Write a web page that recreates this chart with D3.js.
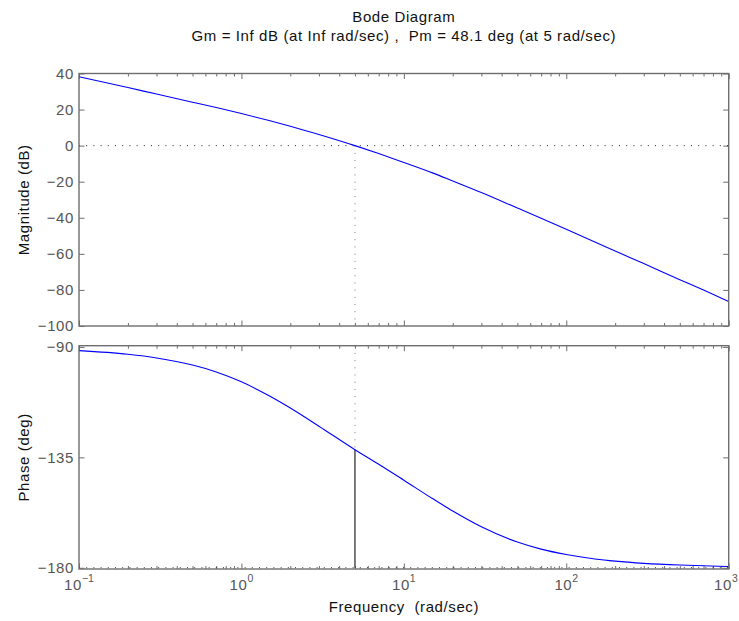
<!DOCTYPE html>
<html><head><meta charset="utf-8">
<script src="https://cdn.jsdelivr.net/npm/d3@7"></script>
<style>body{margin:0;background:#fff}</style>
</head><body>
<svg id="chart" width="739" height="621"></svg>
<script>
const freq        = [0.1, 0.2, 0.3, 0.5, 0.7, 1, 1.5, 2, 3, 5, 7, 10, 15, 20, 30, 50, 70, 100, 150, 200, 300, 500, 700, 1000];
const magnitudeDb = [38.2, 32.2, 28.6, 24.1, 21.1, 17.8, 13.8, 10.8, 6.2, 0.0, -4.4, -9.3, -15.1, -19.6, -26.0, -34.6, -40.3, -46.4, -53.4, -58.4, -65.4, -74.3, -80.1, -86.4];
const phaseDeg    = [-91.5, -93.0, -94.5, -97.4, -100.2, -104.2, -110.1, -114.9, -122.3, -131.9, -137.8, -144.3, -151.8, -156.9, -163.3, -169.5, -172.4, -174.6, -176.4, -177.3, -178.2, -178.9, -179.2, -179.5];
const magTicks    = [40, 20, 0, -20, -40, -60, -80, -100];
const phaseTicks  = [-90, -135, -180];
const freqTickExps = [-1, 0, 1, 2, 3];
const titleLines  = ["Bode Diagram", "Gm = Inf dB (at Inf rad/sec) ,  Pm = 48.1 deg (at 5 rad/sec)"];
const pmFreq = 5, pmPhase = -131.9;

const FONT = "'Liberation Sans', Arial, Helvetica, sans-serif";
const LS = "0.6px";
const W = 739;
const svg = d3.select("#chart").style("font-family", FONT);
const L = 79, R = 728.7, T1 = 73.5, B1 = 326, T2 = 345.7, B2 = 569;
const x = d3.scaleLog().domain([0.1, 1000]).range([L, R]);
const yMag = d3.scaleLinear().domain([-100, 40]).range([B1, T1]);
const yPh = d3.scaleLinear().domain([-180.5, -89.5]).range([B2, T2]);

const axisColor = "#6e6e6e";
const minorVals = [];
freqTickExps.slice(0, -1).forEach(e => { for (let m = 2; m <= 9; m++) minorVals.push(m * Math.pow(10, e)); });
const majorVals = freqTickExps.map(e => Math.pow(10, e));

function frame(yScale, top, bottom, yTicks) {
  const g = svg.append("g");
  const addX = (vals, size) => {
    g.append("g").attr("transform", `translate(0,${bottom})`)
      .call(d3.axisBottom(x).tickValues(vals).tickSize(-size).tickFormat(""));
    g.append("g").attr("transform", `translate(0,${top})`)
      .call(d3.axisTop(x).tickValues(vals).tickSize(-size).tickFormat(""));
  };
  addX(minorVals, 3);
  addX(majorVals, 5.5);
  g.append("g").attr("transform", `translate(${L},0)`)
    .call(d3.axisLeft(yScale).tickValues(yTicks).tickSize(-5.5).tickPadding(5)
      .tickFormat(d => (d < 0 ? "\u2212" + Math.abs(d) : String(d))));
  g.append("g").attr("transform", `translate(${R},0)`)
    .call(d3.axisRight(yScale).tickValues(yTicks).tickSize(-5.5).tickFormat(""));
  g.selectAll(".domain").remove();
  g.selectAll(".tick line").attr("stroke", axisColor).attr("stroke-width", 1);
  g.selectAll(".tick text").attr("fill", "#555").style("font-size", "15px")
    .style("letter-spacing", LS).style("font-family", FONT);
  return g;
}

frame(yMag, T1, B1, magTicks);
frame(yPh, T2, B2, phaseTicks);

const dots = "1,6.2";
svg.append("line").attr("x1", L).attr("x2", R).attr("y1", yMag(0)).attr("y2", yMag(0))
  .attr("stroke", "#222").attr("stroke-dasharray", dots);
svg.append("line").attr("x1", L).attr("x2", R).attr("y1", yPh(-180)).attr("y2", yPh(-180))
  .attr("stroke", "#222").attr("stroke-dasharray", dots);
svg.append("line").attr("x1", x(pmFreq)).attr("x2", x(pmFreq)).attr("y1", yMag(0)).attr("y2", B1)
  .attr("stroke", "#777").attr("stroke-dasharray", dots);
svg.append("line").attr("x1", x(pmFreq)).attr("x2", x(pmFreq)).attr("y1", T2).attr("y2", yPh(pmPhase))
  .attr("stroke", "#777").attr("stroke-dasharray", dots);
svg.append("line").attr("x1", x(pmFreq)).attr("x2", x(pmFreq)).attr("y1", yPh(pmPhase)).attr("y2", yPh(-180))
  .attr("stroke", "#333").attr("stroke-width", 1.3);

const magLine = d3.line().x((d, i) => x(freq[i])).y(d => yMag(d)).curve(d3.curveMonotoneX);
const phLine = d3.line().x((d, i) => x(freq[i])).y(d => yPh(d)).curve(d3.curveMonotoneX);
svg.append("path").attr("d", magLine(magnitudeDb)).attr("fill", "none").attr("stroke", "#0000ff").attr("stroke-width", 1.1);
svg.append("path").attr("d", phLine(phaseDeg)).attr("fill", "none").attr("stroke", "#0000ff").attr("stroke-width", 1.1);

[[T1, B1], [T2, B2]].forEach(([t, b]) => {
  svg.append("rect").attr("x", L).attr("y", t).attr("width", R - L).attr("height", b - t)
    .attr("fill", "none").attr("stroke", axisColor).attr("stroke-width", 1.4);
});

freqTickExps.forEach(e => {
  const t = svg.append("text").attr("x", x(Math.pow(10, e))).attr("y", 590)
    .attr("text-anchor", "middle").attr("fill", "#555").style("font-size", "15px").style("letter-spacing", LS);
  t.append("tspan").text("10");
  t.append("tspan").attr("dy", -8).style("font-size", "10.5px").style("letter-spacing", "0px")
    .text(e < 0 ? "\u2212" + Math.abs(e) : String(e));
  // keep the label inside the picture
  const bb = t.node().getBBox();
  if (bb.x + bb.width > W - 1) t.attr("x", +t.attr("x") - (bb.x + bb.width - (W - 1)));
});

const cx = (L + R) / 2;
svg.append("text").attr("x", cx).attr("y", 612).attr("text-anchor", "middle")
  .attr("fill", "#111").style("font-size", "15px").style("letter-spacing", LS).style("white-space", "pre").text("Frequency  (rad/sec)");
svg.append("text").attr("transform", `translate(29,${(T1 + B1) / 2}) rotate(-90)`).attr("text-anchor", "middle")
  .attr("fill", "#111").style("font-size", "15px").style("letter-spacing", LS).text("Magnitude (dB)");
svg.append("text").attr("transform", `translate(29,${(T2 + B2) / 2}) rotate(-90)`).attr("text-anchor", "middle")
  .attr("fill", "#111").style("font-size", "15px").style("letter-spacing", LS).text("Phase (deg)");
titleLines.forEach((s, i) => {
  svg.append("text").attr("x", cx).attr("y", 22 + i * 18.5).attr("text-anchor", "middle")
    .attr("fill", "#111").style("font-size", "15px").style("letter-spacing", LS).style("white-space", "pre").text(s);
});
</script>
</body></html>
